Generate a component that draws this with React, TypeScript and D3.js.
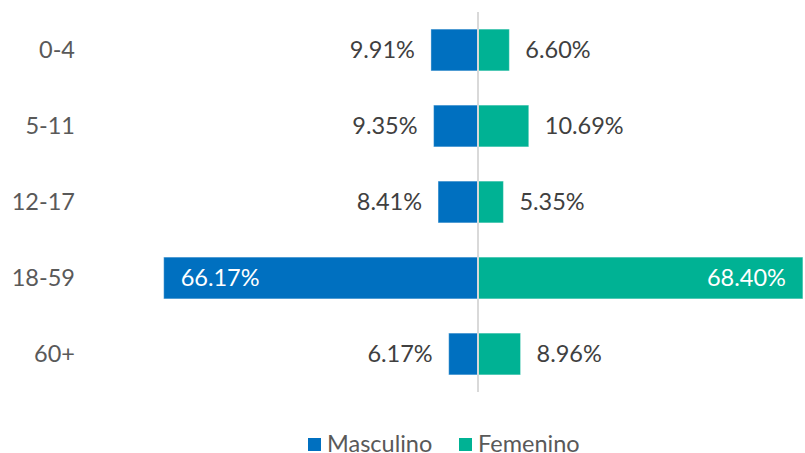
import React, { useEffect, useRef } from "react";
import * as d3 from "d3";

const ageGroups = ["0-4", "5-11", "12-17", "18-59", "60+"];
const masculino = [9.91, 9.35, 8.41, 66.17, 6.17];
const femenino = [6.6, 10.69, 5.35, 68.4, 8.96];
const seriesNames = ["Masculino", "Femenino"];
const seriesColors = ["#0070C0", "#00B294"];

const W = 805;
const H = 453;
const FONT = "Lato, 'Open Sans', sans-serif";

export default function App() {
  const ref = useRef<SVGSVGElement>(null);

  useEffect(() => {
    const svg = d3.select(ref.current);
    svg.selectAll("*").remove();

    const center = 478;
    const x = d3.scaleLinear().domain([-100, 100]).range([center - 475, center + 475]);
    const y = d3.scaleBand<string>().domain(ageGroups).range([12, 392]).paddingInner(0.45).paddingOuter(0.225);

    const rows = ageGroups.map((g, i) => ({ g, m: masculino[i], f: femenino[i] }));

    // bars
    const series = [
      { name: seriesNames[0], vals: masculino, sign: -1, color: seriesColors[0] },
      { name: seriesNames[1], vals: femenino, sign: 1, color: seriesColors[1] },
    ];

    series.forEach((s) => {
      svg.append("g")
        .selectAll("rect")
        .data(rows)
        .join("rect")
        .attr("x", (d, i) => Math.min(x(0), x(s.sign * s.vals[i])))
        .attr("y", (d) => y(d.g)!)
        .attr("width", (d, i) => Math.abs(x(s.sign * s.vals[i]) - x(0)))
        .attr("height", y.bandwidth())
        .attr("fill", s.color)
        .attr("stroke", "#ffffff")
        .attr("stroke-opacity", 0.4)
        .attr("stroke-width", 1);

      svg.append("g")
        .selectAll("text")
        .data(rows)
        .join("text")
        .attr("x", (d, i) => {
          const end = x(s.sign * s.vals[i]);
          const inside = s.vals[i] > 30;
          return inside ? end - s.sign * 17 : end + s.sign * 16;
        })
        .attr("y", (d) => y(d.g)! + y.bandwidth() / 2)
        .attr("dy", "0.35em")
        .attr("text-anchor", (d, i) => {
          const inside = s.vals[i] > 30;
          if (s.sign < 0) return inside ? "start" : "end";
          return inside ? "end" : "start";
        })
        .attr("fill", (d, i) => (s.vals[i] > 30 ? "#ffffff" : "#404040"))
        .style("font-family", FONT)
        .style("font-size", "23.5px")
        .text((d, i) => s.vals[i].toFixed(2) + "%");
    });

    // center axis line
    svg.append("line")
      .attr("x1", x(0))
      .attr("x2", x(0))
      .attr("y1", 12)
      .attr("y2", 392)
      .attr("stroke", "#D9D9D9")
      .attr("stroke-width", 2);

    // category labels
    svg.append("g")
      .selectAll("text")
      .data(ageGroups)
      .join("text")
      .attr("x", 75)
      .attr("y", (d) => y(d)! + y.bandwidth() / 2)
      .attr("dy", "0.35em")
      .attr("text-anchor", "end")
      .attr("fill", "#595959")
      .style("font-family", FONT)
      .style("font-size", "23.5px")
      .text((d) => d);

    // legend
    const legendX = [308, 459];
    const lg = svg.append("g");
    seriesNames.forEach((n, i) => {
      lg.append("rect")
        .attr("x", legendX[i])
        .attr("y", 438)
        .attr("width", 13)
        .attr("height", 13)
        .attr("fill", seriesColors[i]);
      lg.append("text")
        .attr("x", legendX[i] + 19)
        .attr("y", 452)
        .attr("fill", "#595959")
        .style("font-family", FONT)
        .style("font-size", "23.5px")
        .text(n);
    });
  }, []);

  return (
    <svg
      ref={ref}
      width={W}
      height={H}
      style={{ position: "absolute", left: 0, top: 0, background: "#fff" }}
    />
  );
}
